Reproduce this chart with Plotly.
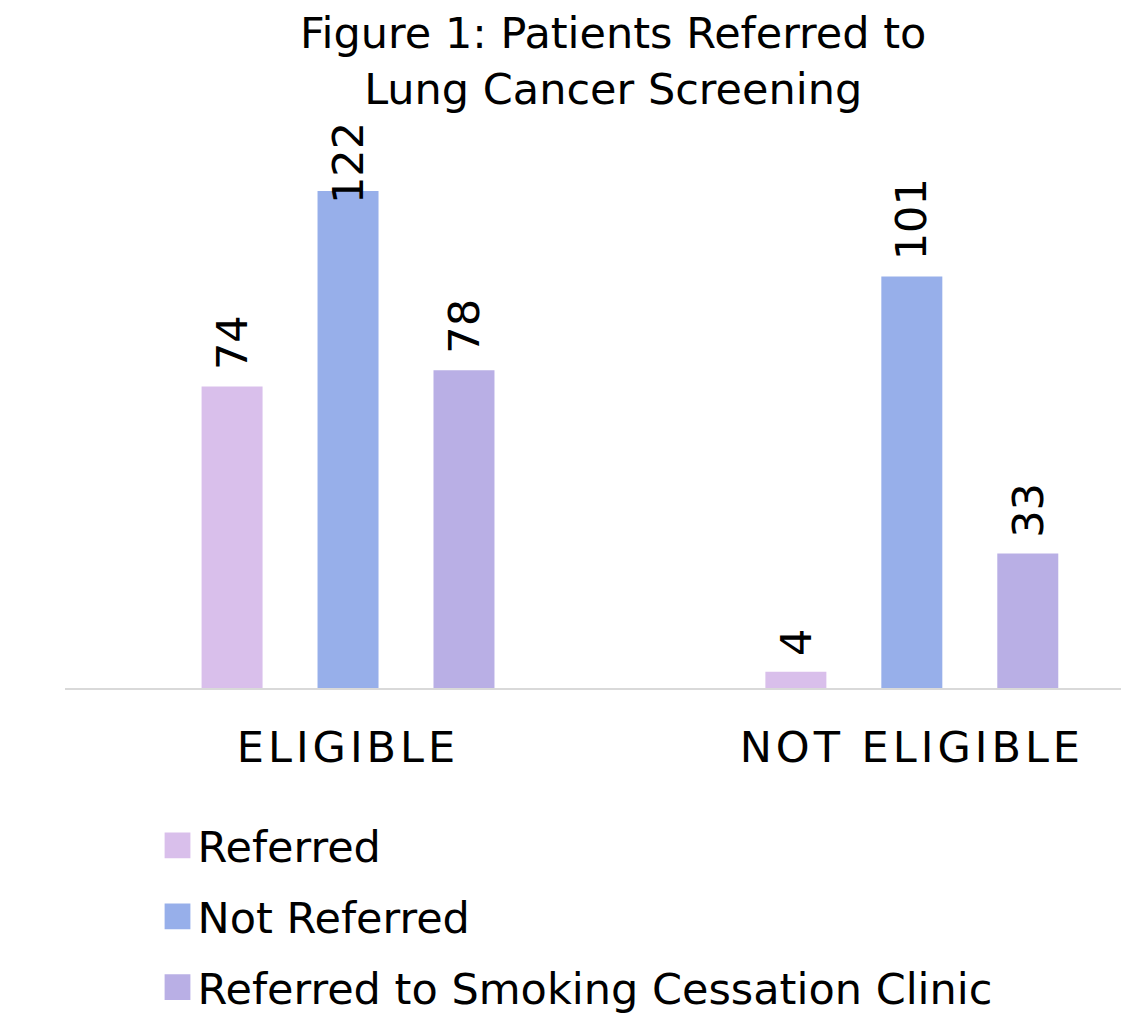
import plotly.graph_objects as go

categories = ["ELIGIBLE", "NOT ELIGIBLE"]
series_names = ["Referred", "Not Referred", "Referred to Smoking Cessation Clinic"]
referred = [74, 4]
not_referred = [122, 101]
smoking = [78, 33]
colors = ["#D9BFEB", "#97AFEA", "#B9AFE5"]

FONT = "DejaVu Sans"
values = [referred, not_referred, smoking]

W, H = 1121, 1018
M_L, M_R, M_T, M_B = 65, 0, 120, 330
Y_MAX = 139.4
plot_h = H - M_T - M_B
units_per_px = Y_MAX / plot_h
LABEL_SIZE = 43
LABEL_GAP = 14

fig = go.Figure()
for i, (name, vals, col) in enumerate(zip(series_names, values, colors)):
    fig.add_trace(go.Bar(
        x=categories, y=vals, name=name,
        marker=dict(color=col, line=dict(width=0)),
        legendgroup=name,
    ))

# data labels as rotated annotations above each bar (clamped inside the plot top)
pitch_px = 116
for i, vals in enumerate(values):
    for c, v in zip(categories, vals):
        n = len(str(v))
        need = v + (LABEL_GAP + n * 0.636 * LABEL_SIZE + 6) * units_per_px
        if need > Y_MAX:
            y, ya, ys = Y_MAX, "top", 0
        else:
            y, ya, ys = v, "bottom", LABEL_GAP
        fig.add_annotation(
            x=c, y=y, xref="x", yref="y", text=str(v), showarrow=False,
            textangle=-90, xanchor="center", yanchor=ya,
            xshift=(i - 1) * pitch_px, yshift=ys,
            font=dict(family=FONT, size=LABEL_SIZE, color="#000000"),
        )

fig.update_layout(
    width=W, height=H,
    margin=dict(l=M_L, r=M_R, t=M_T, b=M_B, autoexpand=False),
    paper_bgcolor="white", plot_bgcolor="white",
    barmode="group", bargap=0.383, bargroupgap=0.474,
    font=dict(family=FONT, color="#000000"),
    title=dict(
        text="Figure 1: Patients Referred to<br>Lung Cancer Screening",
        x=0.547, xref="container", xanchor="center",
        y=0.953, yref="container", yanchor="top",
        font=dict(family=FONT, size=43, color="#000000"),
    ),
    xaxis=dict(
        type="category",
        range=[-0.502, 1.371], showline=True, linecolor="#D9D9D9", linewidth=2,
        showgrid=False, zeroline=False, ticks="", tickangle=0,
        ticklabelstandoff=20,
        tickfont=dict(family=FONT, size=43, color="#000000"),
    ),
    yaxis=dict(range=[0, Y_MAX], visible=False, showgrid=False, zeroline=False),
    legend=dict(
        orientation="v", x=0.0876, xref="paper", xanchor="left",
        y=-0.2165, yref="paper", yanchor="top",
        font=dict(family=FONT, size=43, color="#000000"),
        traceorder="grouped", tracegroupgap=12,
        bgcolor="rgba(0,0,0,0)",
    ),
    showlegend=True,
)

post_js = """
(function(){
  var gd = document.getElementById('{plot_id}');
  function tweak(){
    document.querySelectorAll('.xtick text').forEach(function(t){
      t.style.letterSpacing = '4px';
    });
    document.querySelectorAll('.legendpoints path').forEach(function(p){
      var tr = p.getAttribute('transform') || '';
      if (tr.indexOf('scale') < 0) { p.setAttribute('transform', tr + ' scale(2.15)'); }
    });
  }
  tweak();
  if (gd && gd.on) { gd.on('plotly_afterplot', tweak); }
})();
"""

fig.write_html("out.html", post_script=post_js)
